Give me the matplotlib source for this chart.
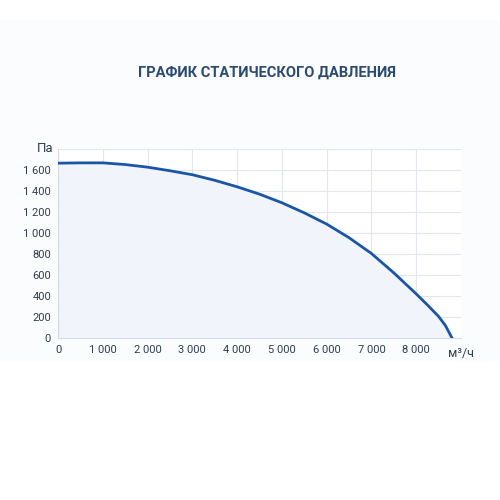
import matplotlib
matplotlib.use("Agg")
import matplotlib.pyplot as plt
from matplotlib.ticker import FuncFormatter

plt.rcParams['font.family'] = ['Roboto', 'DejaVu Sans']

# static pressure curve
flow = [0, 500, 1000, 1500, 2000, 2500, 3000, 3500, 4000, 4500, 5000, 5500,
        6000, 6500, 7000, 7500, 8000, 8250, 8500, 8650, 8800]
pressure = [1665, 1668, 1668, 1652, 1627, 1593, 1555, 1502, 1440, 1370, 1288, 1192,
            1085, 955, 805, 620, 420, 315, 205, 120, 0]
x_ticks = [0, 1000, 2000, 3000, 4000, 5000, 6000, 7000, 8000]
y_ticks = [0, 200, 400, 600, 800, 1000, 1200, 1400, 1600]

fig = plt.figure(figsize=(5, 5), dpi=100)
fig.patches.append(plt.Rectangle((0.0, 0.28), 1.0, 0.68, transform=fig.transFigure,
                                 color='#fbfcfd', zorder=-1))
ax = fig.add_axes([0.116, 0.324, 0.806, 0.378])

ax.fill_between(flow, pressure, color='#f1f5fb', zorder=1)
ax.plot(flow, pressure, color='#1a56a8', lw=2, zorder=3, solid_joinstyle='round')

ax.set_xlim(0, 9000)
ax.set_ylim(0, 1800)
ax.set_xticks(x_ticks)
ax.set_yticks(y_ticks + [1800])
fmt = FuncFormatter(lambda v, p: '' if v == 1800 else f"{int(v):,}".replace(',', ' '))
ax.xaxis.set_major_formatter(fmt)
ax.yaxis.set_major_formatter(fmt)
ax.grid(True, color='#e3e6ec', lw=0.8)
ax.set_axisbelow(True)
for s in ['top', 'right']:
    ax.spines[s].set_visible(False)
for s in ['left', 'bottom']:
    ax.spines[s].set_color('#d5dae2')
ax.tick_params(length=0, labelsize=8, colors='#2f3d52', pad=5)

ax.text(-0.01, 1.0, 'Па', transform=ax.transAxes, ha='right', va='center',
        fontsize=9.5, color='#2f3d52')
ax.text(1.0, -0.05, 'м³/ч', transform=ax.transAxes, ha='center', va='top',
        fontsize=9, color='#2f3d52')

fig.text(0.535, 0.855, 'ГРАФИК СТАТИЧЕСКОГО ДАВЛЕНИЯ', ha='center', va='center',
         fontsize=10.5, fontweight='bold', color='#2b4a70')

fig.savefig('out.png', dpi=100, facecolor='white')
